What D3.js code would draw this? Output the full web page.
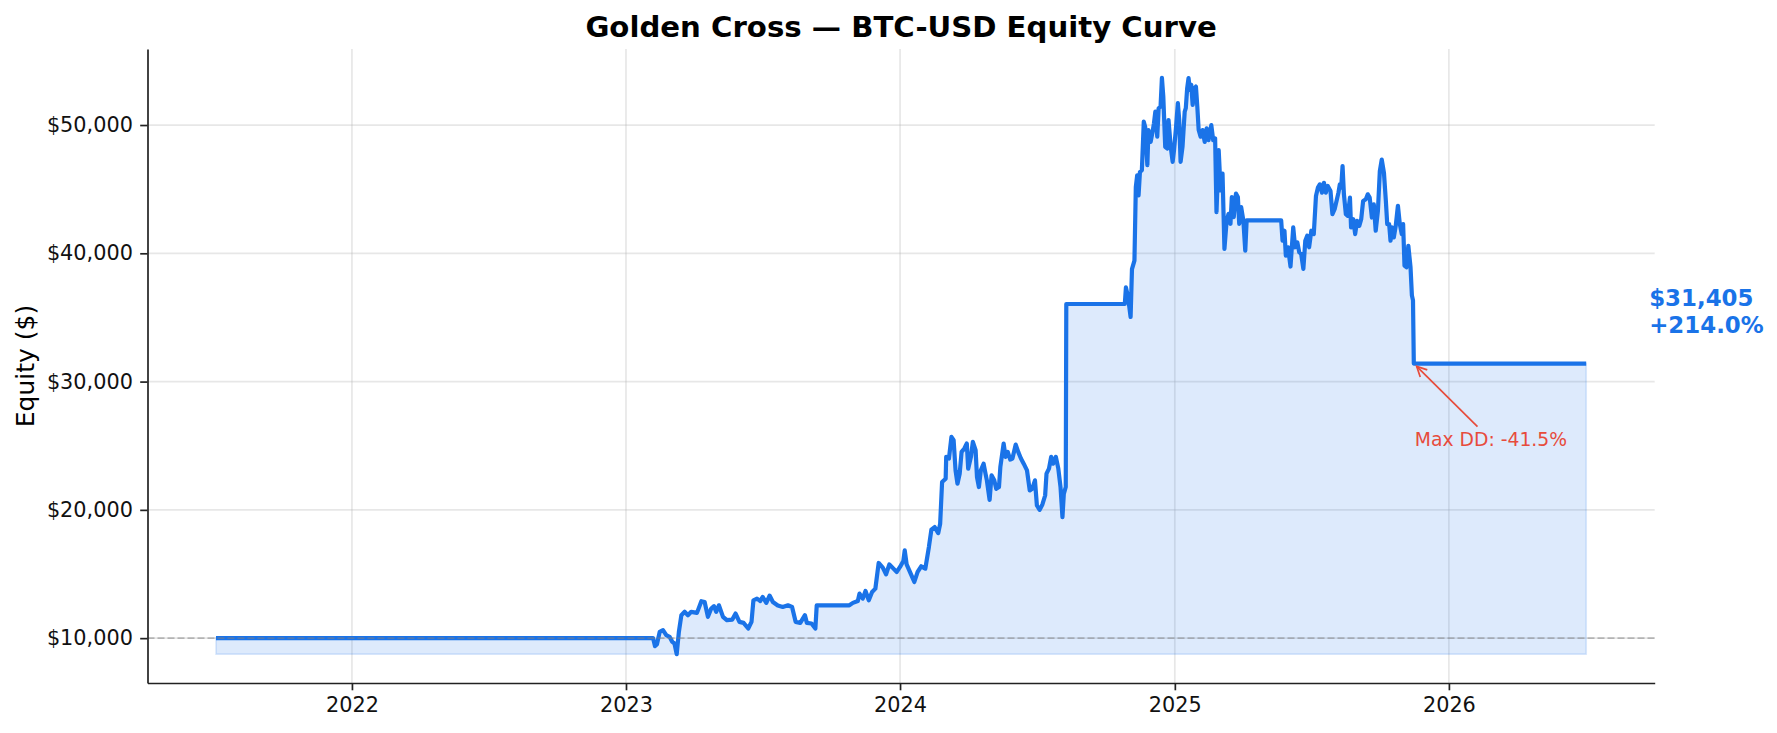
<!DOCTYPE html>
<html>
<head>
<meta charset="utf-8">
<script src="https://cdn.jsdelivr.net/npm/d3@7"></script>
<style>
  body { margin: 0; background: #fff; }
  svg { display: block; font-family: "DejaVu Sans", sans-serif; }
</style>
</head>
<body>
<div id="chart"></div>
<script>
// Chart values
const chartTitle = "Golden Cross — BTC-USD Equity Curve";
const startingCapital = 10000;
const finalEquity = 31405;
const totalReturnPct = 214.0;
const maxDrawdownPct = -41.5;
const maxDrawdownAt = 2025.872; // decimal year of the trough
const yTickValues = [10000, 20000, 30000, 40000, 50000];
const xTickYears = [2022, 2023, 2024, 2025, 2026];

// Equity curve: [decimal year, equity in $]
const curve = [
  [2021.504, 10000], [2023.099, 10000], [2023.106, 9375], [2023.113, 9530],
  [2023.123, 10490], [2023.135, 10620], [2023.147, 10230], [2023.159, 10100],
  [2023.169, 9710], [2023.177, 9580], [2023.185, 8750], [2023.193, 10490],
  [2023.202, 11790], [2023.214, 12050], [2023.226, 11790], [2023.238, 12050],
  [2023.259, 11970], [2023.275, 12880], [2023.287, 12820], [2023.299, 11660],
  [2023.311, 12310], [2023.321, 12490], [2023.329, 12050], [2023.339, 12560],
  [2023.354, 11660], [2023.368, 11400], [2023.388, 11450], [2023.400, 11920],
  [2023.414, 11270], [2023.429, 11190], [2023.446, 10750], [2023.458, 11270],
  [2023.465, 12950], [2023.478, 13080], [2023.490, 12900], [2023.499, 13210],
  [2023.512, 12750], [2023.524, 13320], [2023.536, 12820], [2023.554, 12540],
  [2023.572, 12430], [2023.591, 12560], [2023.606, 12430], [2023.619, 11270],
  [2023.636, 11190], [2023.653, 11790], [2023.660, 11190], [2023.677, 11140],
  [2023.691, 10750], [2023.696, 12560], [2023.815, 12560], [2023.828, 12750],
  [2023.846, 12900], [2023.852, 13470], [2023.864, 13080], [2023.874, 13680],
  [2023.886, 12950], [2023.898, 13600], [2023.910, 13860], [2023.922, 15860],
  [2023.937, 15500], [2023.949, 14980], [2023.961, 15750], [2023.976, 15420],
  [2023.988, 15160], [2024.000, 15550], [2024.012, 16010], [2024.017, 16840],
  [2024.024, 15750], [2024.036, 15160], [2024.052, 14380], [2024.064, 15160],
  [2024.077, 15600], [2024.092, 15420], [2024.105, 17100], [2024.114, 18450],
  [2024.126, 18660], [2024.139, 18190], [2024.146, 18920], [2024.153, 22170],
  [2024.166, 22430], [2024.168, 24130], [2024.178, 24000], [2024.187, 25690],
  [2024.195, 25430], [2024.202, 23080], [2024.209, 22040], [2024.217, 22820],
  [2024.224, 24520], [2024.234, 24780], [2024.243, 25170], [2024.248, 23210],
  [2024.258, 24130], [2024.265, 25300], [2024.275, 24650], [2024.280, 22560],
  [2024.287, 21780], [2024.294, 23080], [2024.304, 23600], [2024.311, 22820],
  [2024.316, 22300], [2024.326, 20780], [2024.333, 22690], [2024.343, 22300],
  [2024.350, 21640], [2024.360, 21780], [2024.365, 23340], [2024.377, 25170],
  [2024.384, 24130], [2024.392, 24520], [2024.401, 23920], [2024.409, 24000],
  [2024.421, 25090], [2024.430, 24520], [2024.440, 24000], [2024.450, 23600],
  [2024.462, 23080], [2024.472, 21510], [2024.481, 21640], [2024.491, 22300],
  [2024.498, 20340], [2024.508, 20000], [2024.518, 20420], [2024.528, 21120],
  [2024.533, 22820], [2024.542, 23210], [2024.550, 24130], [2024.557, 23600],
  [2024.567, 24130], [2024.576, 23210], [2024.584, 21780], [2024.591, 19430],
  [2024.596, 21250], [2024.603, 21780], [2024.605, 36050], [2024.818, 36050],
  [2024.822, 37340], [2024.830, 36560], [2024.839, 35040], [2024.844, 38770],
  [2024.853, 39430], [2024.858, 45170], [2024.863, 46080], [2024.868, 44520],
  [2024.873, 46340], [2024.880, 46480], [2024.887, 50260], [2024.892, 49870],
  [2024.900, 46870], [2024.904, 49610], [2024.912, 48690], [2024.919, 49480],
  [2024.924, 50130], [2024.929, 51040], [2024.936, 49090], [2024.941, 51310],
  [2024.948, 51440], [2024.953, 53680], [2024.958, 52220], [2024.965, 48300],
  [2024.972, 48170], [2024.977, 50390], [2024.985, 48300], [2024.992, 47130],
  [2024.997, 48040], [2025.004, 49740], [2025.011, 51700], [2025.016, 50390],
  [2025.021, 47130], [2025.028, 48300], [2025.036, 51040], [2025.040, 51310],
  [2025.045, 52870], [2025.050, 53660], [2025.055, 52740], [2025.060, 53130],
  [2025.065, 51570], [2025.072, 52870], [2025.077, 53000], [2025.082, 51440],
  [2025.087, 49610], [2025.094, 49090], [2025.101, 49610], [2025.109, 48690],
  [2025.116, 49740], [2025.123, 48820], [2025.133, 50000], [2025.140, 48820],
  [2025.147, 48950], [2025.152, 43210], [2025.160, 48040], [2025.167, 44910],
  [2025.174, 46210], [2025.181, 40340], [2025.189, 42560], [2025.196, 43080],
  [2025.203, 42300], [2025.208, 44390], [2025.215, 42820], [2025.223, 44650],
  [2025.230, 44390], [2025.235, 42300], [2025.242, 43600], [2025.250, 42560],
  [2025.257, 40210], [2025.262, 42570], [2025.388, 42570], [2025.393, 40980],
  [2025.400, 41760], [2025.405, 39820], [2025.413, 40470], [2025.422, 38970],
  [2025.432, 42020], [2025.439, 40470], [2025.447, 40850], [2025.454, 40080],
  [2025.461, 39950], [2025.469, 38790], [2025.476, 40980], [2025.483, 41370],
  [2025.490, 40470], [2025.498, 41760], [2025.507, 41500], [2025.515, 44470],
  [2025.522, 45120], [2025.529, 45370], [2025.537, 44730], [2025.544, 45500],
  [2025.551, 44730], [2025.558, 45250], [2025.568, 44860], [2025.575, 43050],
  [2025.583, 43440], [2025.590, 44080], [2025.597, 44730], [2025.602, 45370],
  [2025.607, 45120], [2025.612, 46800], [2025.617, 44600], [2025.624, 43050],
  [2025.631, 42920], [2025.639, 44340], [2025.643, 42020], [2025.651, 42660],
  [2025.658, 41500], [2025.665, 42530], [2025.673, 42140], [2025.680, 42660],
  [2025.687, 44080], [2025.697, 44210], [2025.704, 44600], [2025.711, 44340],
  [2025.719, 42790], [2025.726, 43820], [2025.733, 41760], [2025.741, 43310],
  [2025.748, 46410], [2025.755, 47310], [2025.763, 46280], [2025.770, 44080],
  [2025.775, 42270], [2025.782, 42270], [2025.787, 40980], [2025.792, 42020],
  [2025.799, 41240], [2025.806, 42140], [2025.814, 43700], [2025.821, 42270],
  [2025.828, 41500], [2025.833, 42270], [2025.838, 39040], [2025.845, 38910],
  [2025.852, 40590], [2025.860, 38910], [2025.865, 36720], [2025.869, 36330],
  [2025.872, 31405], [2026.501, 31405]
];

// Turn a decimal year into a UTC date
function toDate(yf) {
  const yr = Math.floor(yf);
  const a = Date.UTC(yr, 0, 1);
  const b = Date.UTC(yr + 1, 0, 1);
  return new Date(a + (yf - yr) * (b - a));
}

const data = curve.map((d) => ({ date: toDate(d[0]), value: d[1] }));

// Dimensions
const W = 1777, H = 733;
const margin = { top: 49, right: 122.3, bottom: 50, left: 147.5 };
const width = W - margin.left - margin.right;
const height = H - margin.top - margin.bottom;

const blue = "#1a73e8";
const red = "#e74c3c";

const svgRoot = d3.select("#chart").append("svg")
  .attr("width", W)
  .attr("height", H);

const svg = svgRoot.append("g")
  .attr("transform", `translate(${margin.left},${margin.top})`);

// Scales with matplotlib-style 5% padding
const [d0, d1] = d3.extent(data, (d) => d.date);
const dPad = (d1 - d0) * 0.05;
const x = d3.scaleUtc()
  .domain([new Date(+d0 - dPad), new Date(+d1 + dPad)])
  .range([0, width]);

const [vMin, vMax] = d3.extent(data, (d) => d.value);
const vPad = (vMax - vMin) * 0.05;
const y = d3.scaleLinear()
  .domain([vMin - vPad, vMax + vPad])
  .range([height, 0]);

const xTicks = xTickYears.map((yr) => new Date(Date.UTC(yr, 0, 1)));

// Grid lines
svg.append("g").selectAll("line.gx")
  .data(xTicks)
  .join("line")
  .attr("x1", (d) => x(d)).attr("x2", (d) => x(d))
  .attr("y1", 0).attr("y2", height)
  .attr("stroke", "#b0b0b0").attr("stroke-opacity", 0.3)
  .attr("stroke-width", 1.7);

svg.append("g").selectAll("line.gy")
  .data(yTickValues)
  .join("line")
  .attr("x1", 0).attr("x2", width)
  .attr("y1", (d) => y(d)).attr("y2", (d) => y(d))
  .attr("stroke", "#b0b0b0").attr("stroke-opacity", 0.3)
  .attr("stroke-width", 1.7);

// Filled area down to the lowest equity value
const area = d3.area()
  .x((d) => x(d.date))
  .y0(y(vMin))
  .y1((d) => y(d.value));

svg.append("path")
  .datum(data)
  .attr("d", area)
  .attr("fill", blue).attr("fill-opacity", 0.15)
  .attr("stroke", blue).attr("stroke-opacity", 0.15)
  .attr("stroke-width", 1.7);

// Equity line
const line = d3.line()
  .x((d) => x(d.date))
  .y((d) => y(d.value));

svg.append("path")
  .datum(data)
  .attr("d", line)
  .attr("fill", "none")
  .attr("stroke", blue)
  .attr("stroke-width", 4.2)
  .attr("stroke-linejoin", "round");

// Starting capital reference line
svg.append("line")
  .attr("x1", 0).attr("x2", width)
  .attr("y1", y(startingCapital)).attr("y2", y(startingCapital))
  .attr("stroke", "#808080").attr("stroke-opacity", 0.5)
  .attr("stroke-width", 1.7)
  .attr("stroke-dasharray", "7,3");

// Axes
const xAxis = svg.append("g")
  .attr("transform", `translate(0,${height})`)
  .call(d3.axisBottom(x).tickValues(xTicks).tickFormat(d3.utcFormat("%Y"))
    .tickSize(7.3).tickPadding(7.3).tickSizeOuter(0));

const yAxis = svg.append("g")
  .call(d3.axisLeft(y).tickValues(yTickValues).tickFormat(d3.format("$,"))
    .tickSize(7.3).tickPadding(7.3).tickSizeOuter(0));

[xAxis, yAxis].forEach((g) => {
  g.select(".domain").attr("stroke", "#222").attr("stroke-width", 1.7);
  g.selectAll(".tick line").attr("stroke", "#222").attr("stroke-width", 1.7);
  g.selectAll(".tick text")
    .attr("fill", "#111")
    .style("font-size", "20.8px")
    .style("font-family", "DejaVu Sans");
});

// Title
svgRoot.append("text")
  .attr("x", margin.left + width / 2)
  .attr("y", 37)
  .attr("text-anchor", "middle")
  .style("font-size", "29.2px")
  .style("font-weight", "bold")
  .text(chartTitle);

// Y label
svgRoot.append("text")
  .attr("transform", `translate(25,${margin.top + height / 2}) rotate(-90)`)
  .attr("text-anchor", "middle")
  .attr("dy", "0.35em")
  .style("font-size", "25px")
  .text("Equity ($)");

// Max drawdown annotation
const tx = x(toDate(maxDrawdownAt));
const ty = y(finalEquity);
const label = svg.append("text")
  .attr("x", tx + 1)
  .attr("y", y(24950))
  .attr("fill", red)
  .style("font-size", "18.75px")
  .text(`Max DD: ${maxDrawdownPct.toFixed(1)}%`);

const bb = label.node().getBBox();
const cx = bb.x + bb.width / 2, cy = bb.y + bb.height / 2;
// leave the label box along the line towards the target
const dx = tx - cx, dy = ty - cy;
const tEdge = Math.min(Math.abs((bb.height / 2) / dy), Math.abs((bb.width / 2) / dx));
const len = Math.hypot(dx, dy);
const ux = dx / len, uy = dy / len;
const sx = cx + dx * tEdge + ux * 4, sy = cy + dy * tEdge + uy * 4;
const ex = tx - ux * 4, ey = ty - uy * 4;
svg.append("line")
  .attr("x1", sx).attr("y1", sy).attr("x2", ex).attr("y2", ey)
  .attr("stroke", red).attr("stroke-width", 1.7);
const hl = 10, hw = 5;
svg.append("path")
  .attr("d", `M${ex - ux * hl - uy * hw},${ey - uy * hl + ux * hw}L${ex},${ey}L${ex - ux * hl + uy * hw},${ey - uy * hl - ux * hw}`)
  .attr("fill", "none").attr("stroke", red).attr("stroke-width", 1.7);

// Final equity label
const fx = x(d1) + 63;
const fy = y(finalEquity);
const finalLabel = svg.append("text")
  .attr("fill", blue)
  .style("font-size", "22.9px")
  .style("font-weight", "bold");
finalLabel.append("tspan").attr("x", fx).attr("y", fy - 58)
  .text(d3.format("$,")(finalEquity));
finalLabel.append("tspan").attr("x", fx).attr("y", fy - 31)
  .text(`+${totalReturnPct.toFixed(1)}%`);
</script>
</body>
</html>
